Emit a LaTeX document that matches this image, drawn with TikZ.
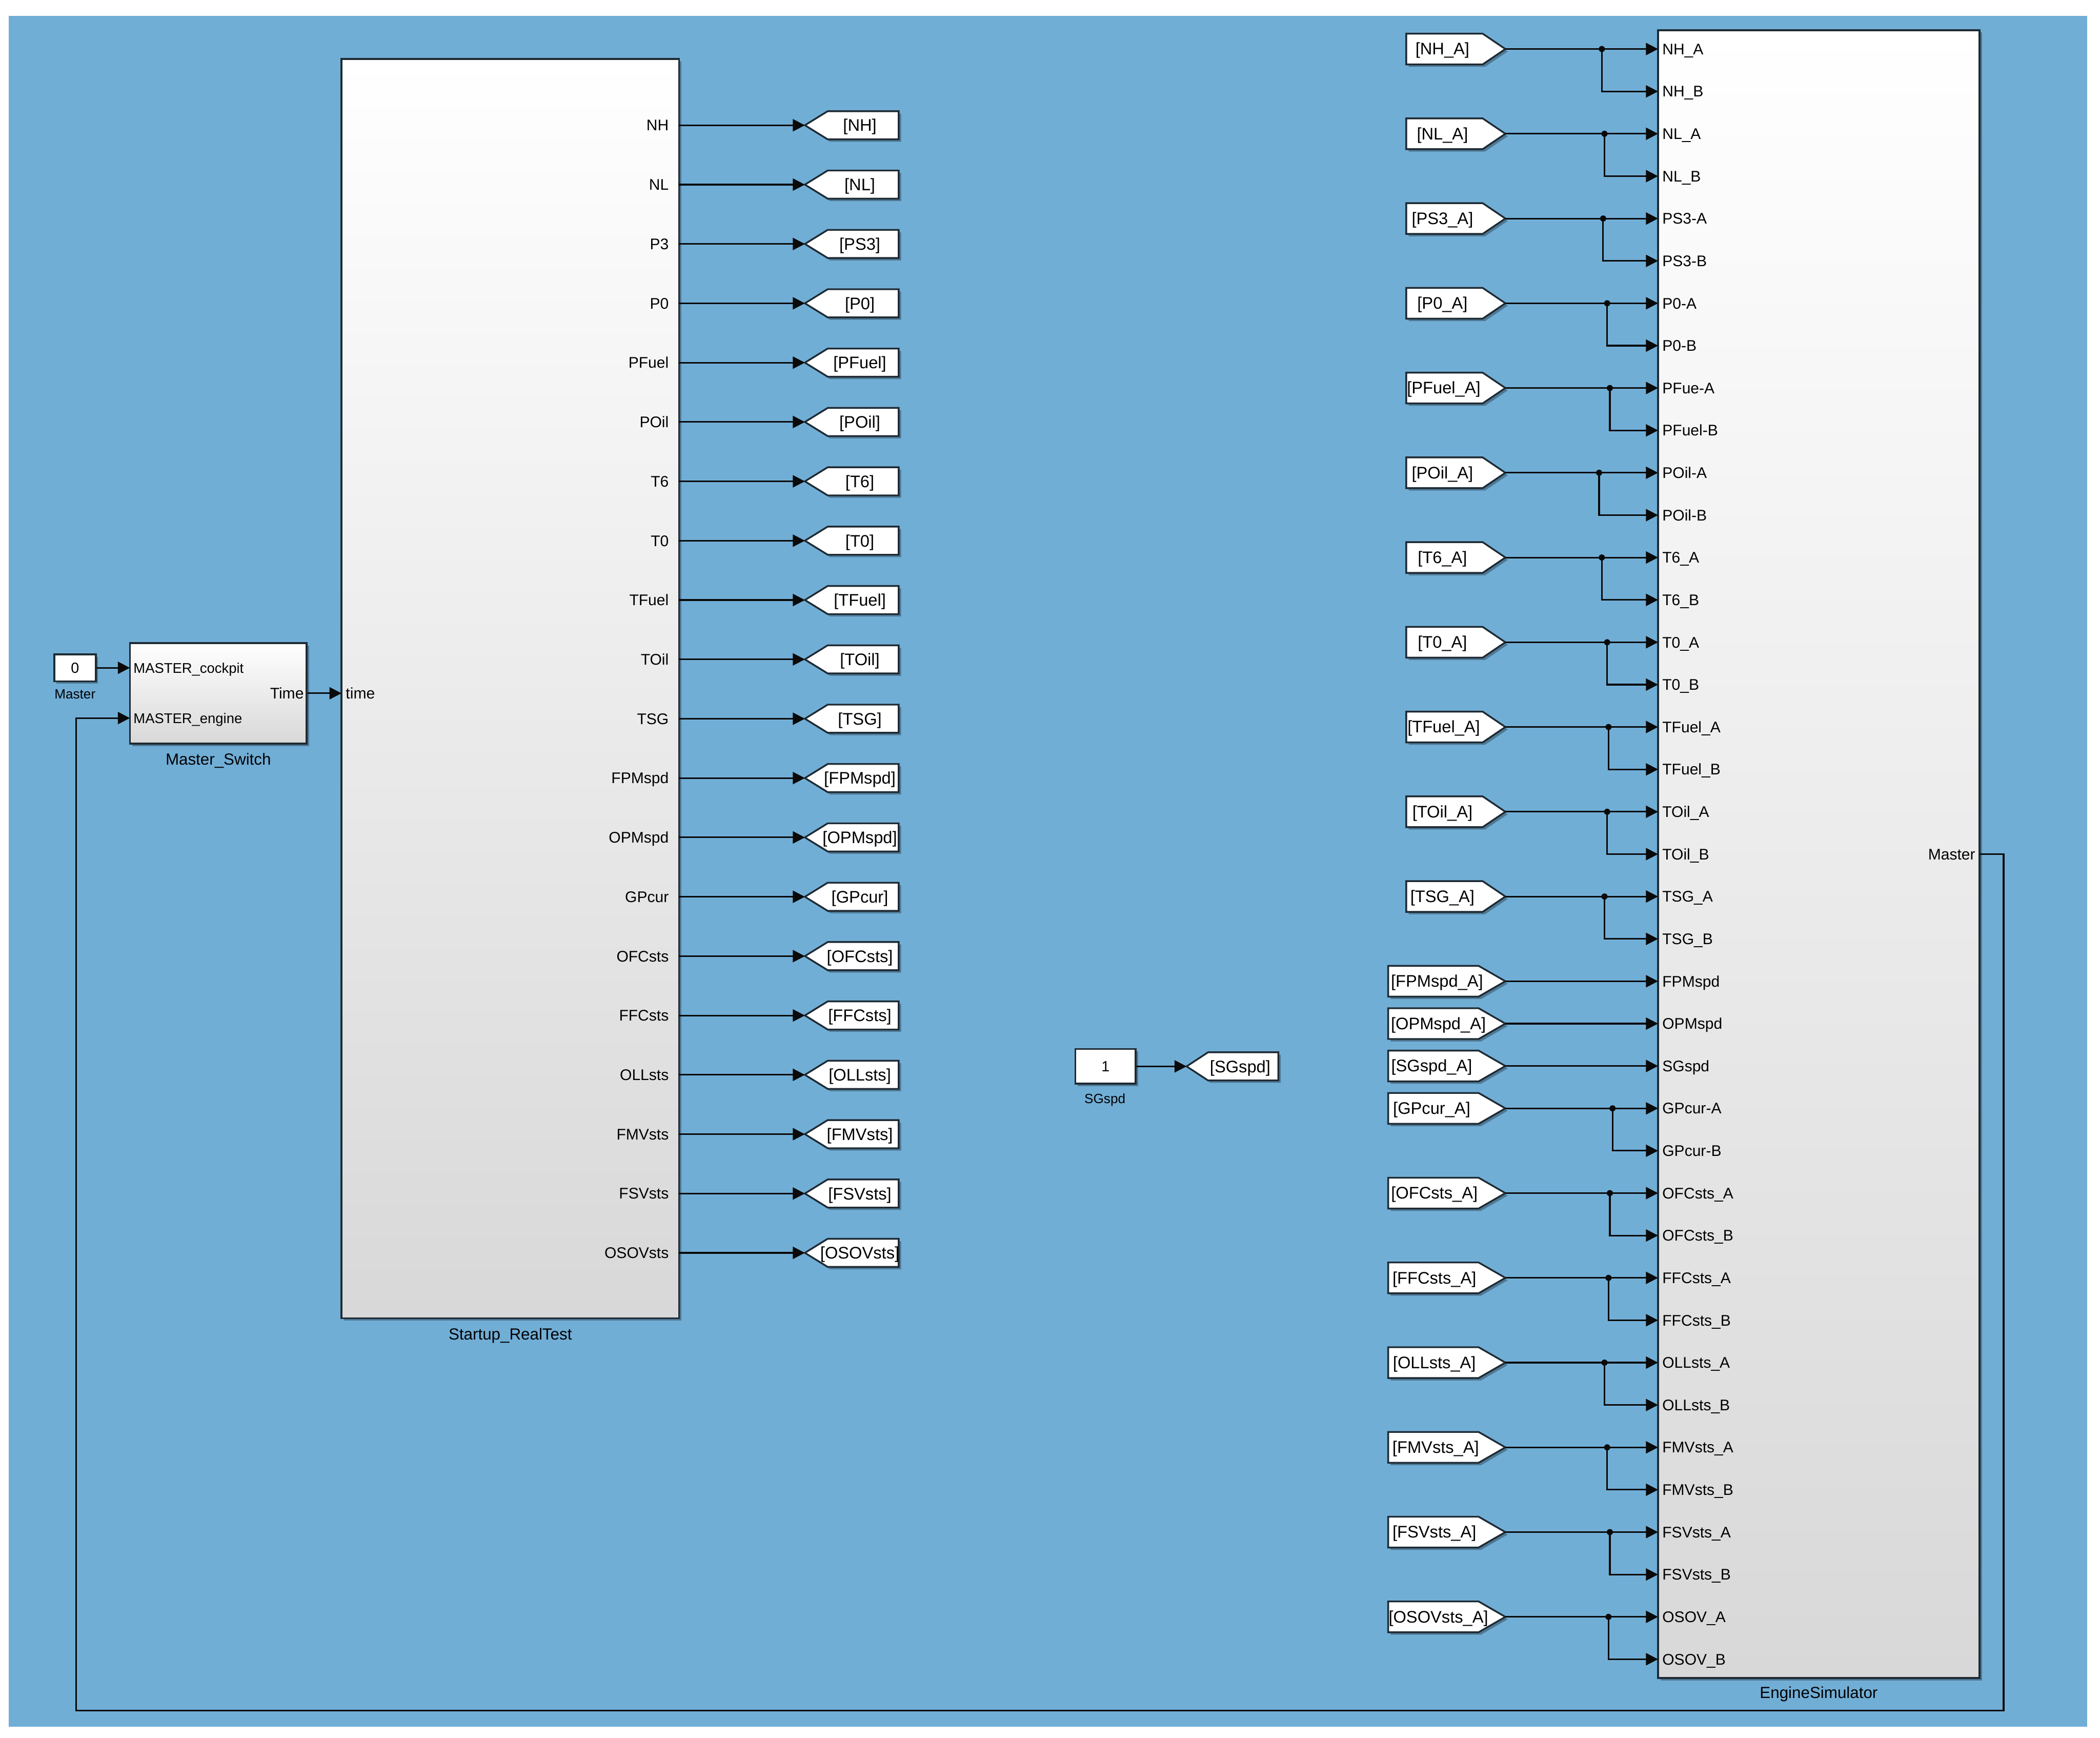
\documentclass[tikz,border=0pt]{standalone}
\usepackage{fontspec}
\setmainfont{Liberation Sans}
\usepackage{tikz}
\usetikzlibrary{arrows.meta, shadows}
\definecolor{slCanvas}{HTML}{71AED6}
\definecolor{slInk}{HTML}{0A0A0A}
\definecolor{slEdge}{HTML}{1E2A33}
\definecolor{slShade}{HTML}{D8D8D8}

\begin{document}
\begin{tikzpicture}[x=1pt, y=-1pt,
    sig/.style={draw=slInk, line width=1.2pt, -{Triangle[length=9pt, width=9pt]}},
    wire/.style={draw=slInk, line width=1.2pt},
    shd/.style={drop shadow={shadow xshift=1.8pt, shadow yshift=-1.8pt, opacity=.3, fill=black}},
    blk/.style={shd, draw=slEdge, line width=1.4pt, top color=white, bottom color=slShade, inner sep=0pt},
    cst/.style={shd, draw=slEdge, line width=1.4pt, fill=white, inner sep=0pt},
    tagbox/.style={shd, draw=slEdge, line width=1.3pt, fill=white},
    plbl/.style={font=\fontsize{11.5}{12}\selectfont, inner sep=0pt},
    tlbl/.style={font=\fontsize{12.5}{13}\selectfont, inner sep=0pt},
    blbl/.style={font=\fontsize{12}{13}\selectfont, inner sep=0pt},
    slbl/.style={font=\fontsize{10}{11}\selectfont, inner sep=0pt}]
  \fill[white] (0,0) rectangle (1568,1297);
  \useasboundingbox (0,0) rectangle (1568,1297);
  \fill[slCanvas] (6.5,12) rectangle (1558.5,1289);

  % blocks
  \node[blk, minimum width=252pt, minimum height=940pt] (startup) at (381,514) {};
  \node[blbl, anchor=base] (startupName) at (381,1000) {Startup\_RealTest};
  \node[blk, minimum width=132pt, minimum height=75pt] (mswitch) at (163,517.5) {};
  \node[blbl, anchor=base] (mswitchName) at (163,570.8) {Master\_Switch};
  \node[blk, minimum width=240pt, minimum height=1230pt] (engine) at (1358,637.5) {};
  \node[blbl, anchor=base] (engineName) at (1358,1267.8) {EngineSimulator};

  \node[cst, minimum width=31pt, minimum height=20pt, font=\fontsize{11}{12}\selectfont] (masterConst) at (56,498.5) {0};
  \node[slbl, anchor=base] (masterName) at (56,521.6) {Master};
  \node[cst, minimum width=45pt, minimum height=26pt, font=\fontsize{11}{12}\selectfont] (sgConst) at (825.5,796) {1};
  \node[slbl, anchor=base] (sgName) at (825,823.8) {SGspd};

  % Master_Switch ports
  \coordinate (msCockpit) at (97,498.5);
  \coordinate (msEngine) at (97,536);
  \coordinate (suTime) at (255,517.5);
  \node[plbl, font=\fontsize{10.5}{11}\selectfont, anchor=base west] (msCockpitLbl) at (99.5,502.3) {MASTER\_cockpit};
  \node[plbl, font=\fontsize{10.5}{11}\selectfont, anchor=base west] (msEngineLbl) at (99.5,539.8) {MASTER\_engine};
  \node[plbl, anchor=base east] (msTimeLbl) at (227,521.6) {Time};
  \node[plbl, anchor=base west] (suTimeLbl) at (258,521.6) {time};
  \draw[sig] (masterConst.east) -- (msCockpit);
  \draw[sig] (mswitch.east) -- (suTime);

  % Startup_RealTest outputs to goto tags
  \foreach \sname/\tname [count=\i] in {NH/NH, NL/NL, P3/PS3, P0/P0, PFuel/PFuel, POil/POil,
      T6/T6, T0/T0, TFuel/TFuel, TOil/TOil, TSG/TSG, FPMspd/FPMspd, OPMspd/OPMspd,
      GPcur/GPcur, OFCsts/OFCsts, FFCsts/FFCsts, OLLsts/OLLsts, FMVsts/FMVsts,
      FSVsts/FSVsts, OSOVsts/OSOVsts} {
    \pgfmathsetmacro{\yy}{93.5+44.3*(\i-1)}
    \coordinate (suOut\i) at (507,\yy);
    \node[plbl, anchor=base east] (suLbl\i) at (499.5,\yy+4.1) {\sname};
    \draw[tagbox] (601,\yy) -- (618,\yy-10.5) -- (671,\yy-10.5) -- (671,\yy+10.5) -- (618,\yy+10.5) -- cycle;
    \coordinate (gotoTip\i) at (601,\yy);
    \node[tlbl, anchor=base] (goto\i) at (642,\yy+4.5) {[\tname]};
    \draw[sig] (suOut\i) -- (gotoTip\i);
  }

  \draw[tagbox] (886,796) -- (902,785.5) -- (954.5,785.5) -- (954.5,806.5) -- (902,806.5) -- cycle;
  \coordinate (sgTip) at (886,796);
  \node[tlbl, anchor=base] (sgGoto) at (926,800.5) {[SGspd]};
  \draw[sig] (sgConst.east) -- (sgTip);

  % EngineSimulator inputs
  \foreach \pname [count=\k from 0] in {NH\_A, NH\_B, NL\_A, NL\_B, PS3-A, PS3-B, P0-A, P0-B,
      PFue-A, PFuel-B, POil-A, POil-B, T6\_A, T6\_B, T0\_A, T0\_B, TFuel\_A, TFuel\_B,
      TOil\_A, TOil\_B, TSG\_A, TSG\_B, FPMspd, OPMspd, SGspd, GPcur-A, GPcur-B,
      OFCsts\_A, OFCsts\_B, FFCsts\_A, FFCsts\_B, OLLsts\_A, OLLsts\_B, FMVsts\_A, FMVsts\_B,
      FSVsts\_A, FSVsts\_B, OSOV\_A, OSOV\_B} {
    \pgfmathsetmacro{\yy}{36.6+31.63*\k}
    \coordinate (esIn\k) at (1238,\yy);
    \node[plbl, anchor=base west] (esLbl\k) at (1241,\yy+4.1) {\pname};
  }

  % from tags feeding two ports
  \foreach \fname/\k/\bx/\lft/\crn/\mid in {NH/0/1196/1050/1107/1077, NL/2/1198/1050/1107/1077,
      PS3/4/1197/1050/1107/1077, P0/6/1200/1050/1107/1077, PFuel/8/1202/1050/1107/1078,
      POil/10/1194/1050/1107/1077, T6/12/1196/1050/1107/1077, T0/14/1200/1050/1107/1077,
      TFuel/16/1201/1050/1107/1078, TOil/18/1200/1050/1107/1077, TSG/20/1198/1050/1107/1077,
      GPcur/25/1204/1036.5/1104/1069, OFCsts/27/1202/1036.5/1104/1071, FFCsts/29/1201/1036.5/1104/1071,
      OLLsts/31/1198/1036.5/1104/1071, FMVsts/33/1200/1036.5/1104/1072, FSVsts/35/1202/1036.5/1104/1071,
      OSOVsts/37/1201/1036.5/1104/1074} {
    \pgfmathsetmacro{\yy}{36.6+31.63*\k}
    \pgfmathtruncatemacro{\kb}{\k+1}
    \draw[tagbox] (\lft,\yy-11.5) -- (\crn,\yy-11.5) -- (1124,\yy) -- (\crn,\yy+11.5) -- (\lft,\yy+11.5) -- cycle;
    \coordinate (fromTip\k) at (1124,\yy);
    \node[tlbl, anchor=base] (from\k) at (\mid,\yy+4.3) {[\fname\_A]};
    \coordinate (split\k) at (\bx,\yy);
    \draw[wire] (fromTip\k) -- (split\k);
    \draw[sig] (split\k) -- (esIn\k);
    \draw[sig] (split\k) |- (esIn\kb);
    \fill[slInk] (split\k) circle (2.3);
  }

  % from tags feeding one port
  \foreach \fname/\k/\mid in {FPMspd/22/1073, OPMspd/23/1074, SGspd/24/1069} {
    \pgfmathsetmacro{\yy}{36.6+31.63*\k}
    \draw[tagbox] (1036.5,\yy-11.5) -- (1104,\yy-11.5) -- (1124,\yy) -- (1104,\yy+11.5) -- (1036.5,\yy+11.5) -- cycle;
    \coordinate (fromTip\k) at (1124,\yy);
    \node[tlbl, anchor=base] (from\k) at (\mid,\yy+4.3) {[\fname\_A]};
    \draw[sig] (fromTip\k) -- (esIn\k);
  }

  % Master feedback
  \coordinate (esMaster) at (1478,637.5);
  \coordinate (loopRight) at (1496,1277);
  \node[plbl, anchor=base east] (esMasterLbl) at (1475,641.6) {Master};
  \draw[sig] (esMaster) -| (loopRight) -| (57,536) -- (msEngine);
\end{tikzpicture}
\end{document}
